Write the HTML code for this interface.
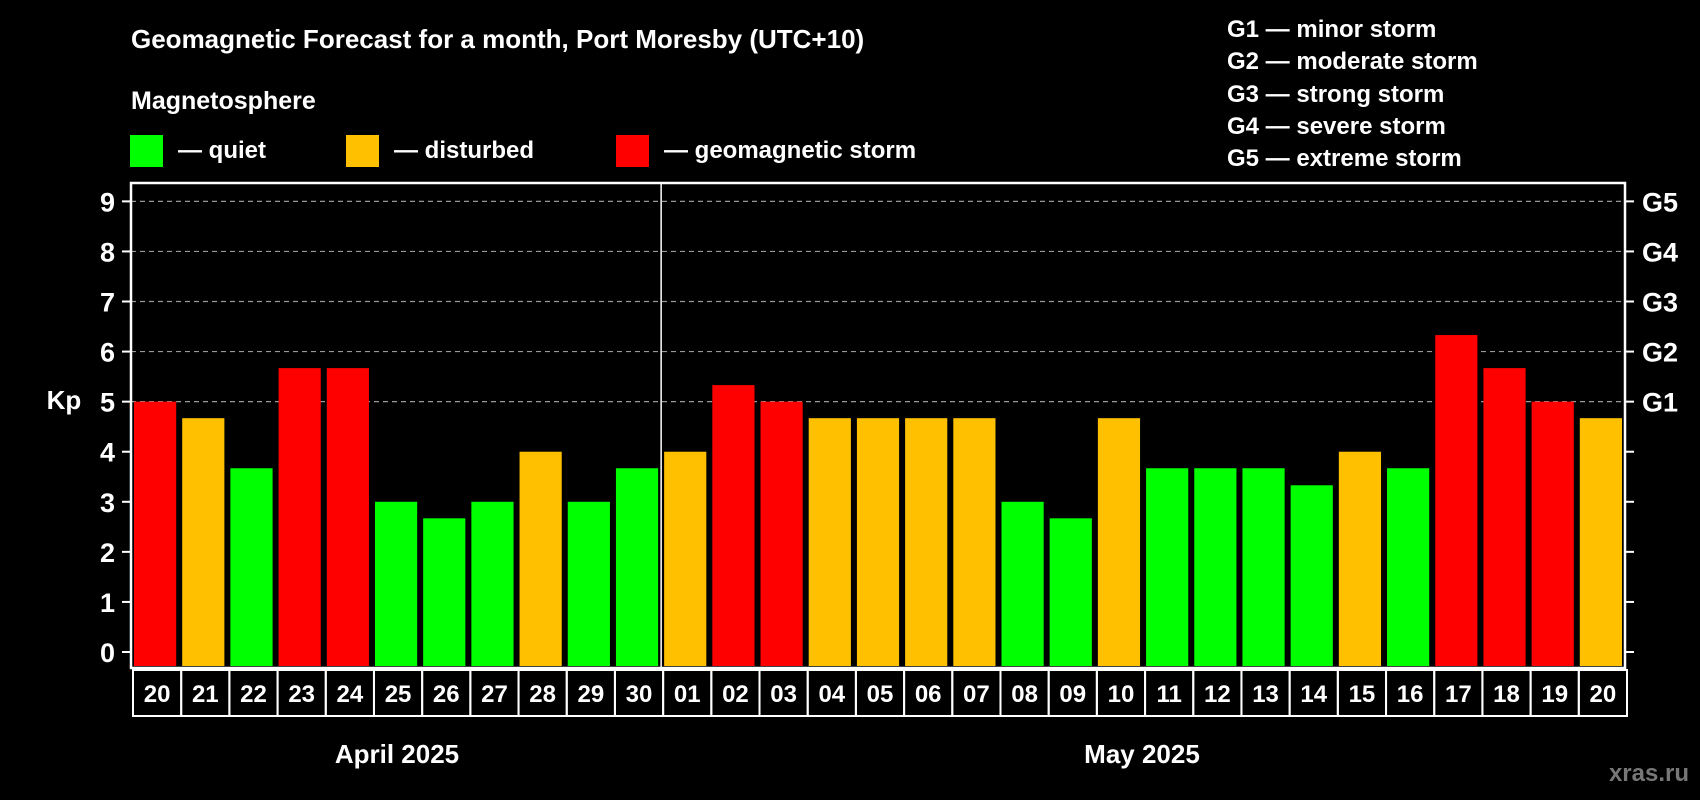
<!DOCTYPE html>
<html><head><meta charset="utf-8"><style>
html,body{margin:0;padding:0;background:#000;}
svg{display:block;font-family:"Liberation Sans",Arial,sans-serif;font-weight:bold;}
</style></head><body>
<svg id="chart" width="1700" height="800" viewBox="0 0 1700 800">
<text x="131" y="48" font-size="26" fill="#fff">Geomagnetic Forecast for a month, Port Moresby (UTC+10)</text>
<text x="131" y="109" font-size="25" fill="#fff">Magnetosphere</text>
<g><rect x="130" y="135" width="33" height="32" fill="#00ff00"/><text x="178" y="158" font-size="24" fill="#fff">— quiet</text></g>
<g><rect x="346" y="135" width="33" height="32" fill="#ffc000"/><text x="394" y="158" font-size="24" fill="#fff">— disturbed</text></g>
<g><rect x="616" y="135" width="33" height="32" fill="#ff0000"/><text x="664" y="158" font-size="24" fill="#fff">— geomagnetic storm</text></g>
<g font-size="24" fill="#fff">
<text x="1227" y="37">G1 — minor storm</text>
<text x="1227" y="69">G2 — moderate storm</text>
<text x="1227" y="102">G3 — strong storm</text>
<text x="1227" y="134">G4 — severe storm</text>
<text x="1227" y="166">G5 — extreme storm</text>
</g>
<text x="64" y="409" font-size="26" fill="#fff" text-anchor="middle">Kp</text>
<text x="397" y="763" font-size="26" fill="#fff" text-anchor="middle">April 2025</text>
<text x="1142" y="763" font-size="26" fill="#fff" text-anchor="middle">May 2025</text>
<text x="1689" y="781" font-size="24" fill="#777" text-anchor="end">xras.ru</text>
<g id="plot"></g>
</svg>
<script>
const days = ["20","21","22","23","24","25","26","27","28","29","30","01","02","03","04","05","06","07","08","09","10","11","12","13","14","15","16","17","18","19","20"];
const kp = [5,4.67,3.67,5.67,5.67,3,2.67,3,4,3,3.67,4,5.33,5,4.67,4.67,4.67,4.67,3,2.67,4.67,3.67,3.67,3.67,3.33,4,3.67,6.33,5.67,5,4.67];
const yTicks = [0,1,2,3,4,5,6,7,8,9];
const gLabels = ["G1","G2","G3","G4","G5"];
const gLevels = [5,6,7,8,9];
const monthBreak = 11;

const L=131,R=1625,T=183,B=668,Y0=652,UNIT=50.07;
const n=days.length, cw=(R-L)/n;
const y=v=>Y0-v*UNIT;
const x=i=>L+i*cw;
const NS="http://www.w3.org/2000/svg";
const g=document.getElementById('plot');
function mk(t,a){const e=document.createElementNS(NS,t);for(const k in a)e.setAttribute(k,a[k]);g.appendChild(e);return e;}
const color=v=>v>=5?"#ff0000":(v>=4?"#ffc000":"#00ff00");

gLevels.forEach(v=>{
  const ln=mk('line',{x1:L,x2:R,y1:y(v),y2:y(v),stroke:'#999','stroke-width':1.2,'stroke-dasharray':'5,4'});
  
  
});
kp.forEach((v,i)=>{
  const r=mk('rect',{x:x(i)+3,y:y(v),width:cw-6,height:B-2-y(v),fill:color(v)});
  
  
});
mk('rect',{x:L,y:T,width:R-L,height:B-T,fill:'none',stroke:'#fff','stroke-width':2.5});
const dv=mk('line',{x1:x(monthBreak),x2:x(monthBreak),y1:T,y2:B,stroke:'#fff','stroke-width':1.5});


yTicks.forEach(v=>{
  mk('line',{x1:L-9,x2:L,y1:y(v),y2:y(v),stroke:'#fff','stroke-width':2});
  mk('line',{x1:R,x2:R+9,y1:y(v),y2:y(v),stroke:'#fff','stroke-width':2});
  const t=mk('text',{x:115,y:y(v)+10,'font-size':27,fill:'#fff','text-anchor':'end'});
  t.textContent=v;
  
  
});
gLabels.forEach((s,i)=>{
  const t=mk('text',{x:1642,y:y(gLevels[i])+10,'font-size':27,fill:'#fff'});
  t.textContent=s;
  
  
});
days.forEach((d,i)=>{
  const c=mk('rect',{x:x(i)+2,y:670,width:cw,height:46,fill:'none',stroke:'#fff','stroke-width':2});
  
  
  const t=mk('text',{x:x(i)+2+cw/2,y:702,'font-size':24,fill:'#fff','text-anchor':'middle'});
  t.textContent=d;
  
  
});
</script>
</body></html>
